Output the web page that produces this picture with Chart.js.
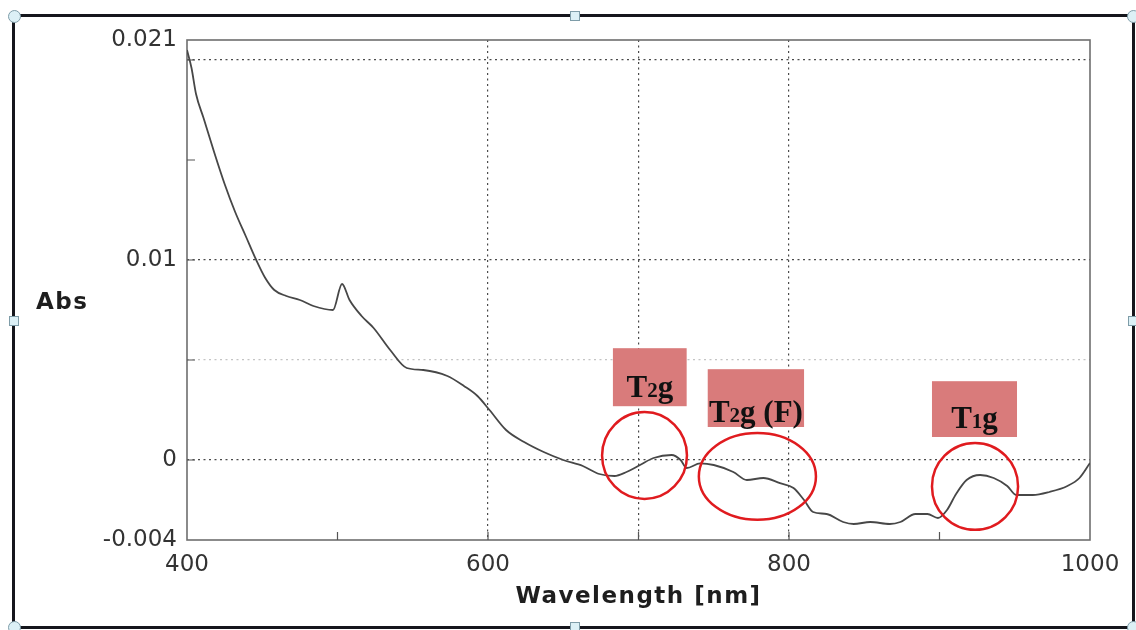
<!DOCTYPE html>
<html>
<head>
<meta charset="utf-8">
<script src="https://cdn.jsdelivr.net/npm/chart.js@4.4.1/dist/chart.umd.min.js"></script>
<style>
 body { margin: 0; background: #fff; }
 #wrap { position: relative; width: 1136px; height: 630px; overflow: hidden; }
 #frame { position: absolute; left: 12px; top: 14px; width: 1123px; height: 615px; box-sizing: border-box; border: 3px solid #15161c; }
 .h { position: absolute; background: #dcf0f6; border: 1.5px solid #7e9ca8; box-sizing: border-box; z-index: 3; }
 .c { width: 13px; height: 13px; border-radius: 50%; }
 .s { width: 10px; height: 10px; }
 canvas { position: absolute; left: 0; top: 0; z-index: 2; }
</style>
</head>
<body>
<div id="wrap">
 <div id="frame"></div>
 <canvas id="absChart" width="1136" height="630"></canvas>
 <div class="h c" style="left:8px;top:10px"></div>
 <div class="h c" style="left:1127px;top:10px"></div>
 <div class="h c" style="left:8px;top:621px"></div>
 <div class="h c" style="left:1127px;top:621px"></div>
 <div class="h s" style="left:570px;top:11px"></div>
 <div class="h s" style="left:570px;top:622px"></div>
 <div class="h s" style="left:9px;top:316px"></div>
 <div class="h s" style="left:1128px;top:316px"></div>
</div>
<script>
// spectre
const wavelength = [400, 403, 406, 411, 418, 425, 432, 439, 446, 452, 458, 466, 475, 484, 497, 503, 508, 516, 524, 535,
 546, 557, 573, 584, 593, 601, 612, 624, 637, 650, 663, 674, 684, 692, 701, 710, 722, 728, 732, 741,
 750, 763, 772, 783, 794, 803, 810, 816, 825, 836, 843, 854, 867, 874, 884, 892, 899, 905, 911, 918,
 927, 936, 945, 951, 962, 973, 985, 993, 1000];
const absorbance = [0.0205, 0.0196, 0.0183, 0.0171, 0.0154, 0.0138, 0.0124, 0.0112, 0.0100, 0.0091, 0.0085, 0.0082, 0.0080, 0.0077, 0.0075, 0.0088, 0.0080, 0.0072, 0.0066, 0.0055,
 0.0046, 0.0045, 0.0042, 0.0037, 0.0032, 0.0025, 0.0015, 0.0009, 0.0004, 0.0000, -0.0003, -0.0007, -0.0008, -0.0006, -0.00025, 0.0001, 0.00025, 0.0, -0.0004, -0.00017,
 -0.00025, -0.0006, -0.001, -0.0009, -0.00116, -0.0014, -0.002, -0.0026, -0.0027, -0.0031, -0.0032, -0.0031, -0.0032, -0.0031, -0.0027, -0.0027, -0.0029, -0.0025, -0.0017, -0.001,
 -0.00075, -0.0009, -0.0013, -0.00175, -0.00175, -0.0016, -0.0013, -0.0009, -0.00015];

const xTicks = [400, 500, 600, 700, 800, 900, 1000];
const xLabels = [400, 600, 800, 1000];
const yTicks = [-0.004, 0, 0.005, 0.01, 0.015, 0.02, 0.021];
const yLabels = [-0.004, 0, 0.01, 0.021];
const xGrid = [600, 700, 800];
const yGrid = [0, 0.01, 0.02];
const yFaintGrid = [0.005];
const bandNames = ["T2g", "T2g (F)", "T1g"];

// caixas e elipses das bandas (em unidades dos eixos)
const notes = [
 { box: [683, 732, 0.00269, 0.00559], base: 0.00314, ell: [704, 0.000225, 28.2, 0.00217] },
 { box: [746, 810, 0.00165, 0.00454], base: 0.0019, ell: [779, -0.00082, 38.9, 0.00217] },
 { box: [895, 951.5, 0.00115, 0.00394], base: 0.0016, ell: [923.6, -0.00132, 28.6, 0.00217] }
];

const decor = {
 id: "decor",
 beforeDatasetsDraw(chart) {
 const { ctx, chartArea: a, scales: { x, y } } = chart;
 ctx.save();
 ctx.strokeStyle = "#6e6e6e";
 ctx.lineWidth = 1.6;
 ctx.strokeRect(a.left, a.top, a.right - a.left, a.bottom - a.top);

 // marcas internas
 ctx.strokeStyle = "#555";
 ctx.lineWidth = 1.2;
 ctx.beginPath();
 yTicks.forEach(v => {
 if (v > y.min && v < y.max) {
 const p = y.getPixelForValue(v);
 ctx.moveTo(a.left, p);
 ctx.lineTo(a.left + 8, p);
 }
 });
 xTicks.forEach(v => {
 if (v > x.min && v < x.max) {
 const p = x.getPixelForValue(v);
 ctx.moveTo(p, a.bottom);
 ctx.lineTo(p, a.bottom - 8);
 }
 });
 ctx.stroke();

 // titulos
 ctx.fillStyle = "#1e1e1e";
 ctx.font = 'bold 23px "DejaVu Sans"';
 ctx.letterSpacing = "1.5px";
 ctx.textBaseline = "middle";
 ctx.textAlign = "left";
 ctx.fillText("Abs", 36, a.top + 263);
 ctx.textAlign = "center";
 ctx.fillText("Wavelength [nm]", (a.left + a.right) / 2, a.bottom + 57);
 ctx.restore();
 },
 afterDatasetsDraw(chart) {
 const { ctx, scales: { x, y } } = chart;
 ctx.save();
 notes.forEach((n, i) => {
 const l = x.getPixelForValue(n.box[0]);
 const r = x.getPixelForValue(n.box[1]);
 const b = y.getPixelForValue(n.box[2]);
 const t = y.getPixelForValue(n.box[3]);
 ctx.fillStyle = "#d97b7b";
 ctx.fillRect(l, t, r - l, b - t);

 // texto: letra, digito pequeno, resto
 const name = bandNames[i];
 const parts = [[name[0], 31], [name[1], 21], [name.slice(2), 31]];
 let total = 0;
 parts.forEach(p => {
 ctx.font = "bold " + p[1] + 'px "Liberation Serif"';
 p.push(ctx.measureText(p[0]).width);
 total += p[2];
 });
 let tx = (l + r) / 2 - total / 2;
 const ty = y.getPixelForValue(n.base);
 ctx.fillStyle = "#111";
 ctx.textBaseline = "alphabetic";
 ctx.textAlign = "left";
 parts.forEach(p => {
 ctx.font = "bold " + p[1] + 'px "Liberation Serif"';
 ctx.fillText(p[0], tx, ty);
 tx += p[2];
 });

 const cx = x.getPixelForValue(n.ell[0]);
 const cy = y.getPixelForValue(n.ell[1]);
 const rx = x.getPixelForValue(n.ell[0] + n.ell[2]) - cx;
 const ry = cy - y.getPixelForValue(n.ell[1] + n.ell[3]);
 ctx.beginPath();
 ctx.ellipse(cx, cy, rx, ry, 0, 0, Math.PI * 2);
 ctx.strokeStyle = "#e01b1f";
 ctx.lineWidth = 2.5;
 ctx.stroke();
 });
 ctx.restore();
 }
};

const tickFont = { family: "DejaVu Sans", size: 23 };

new Chart(document.getElementById("absChart"), {
 type: "line",
 data: {
 datasets: [{
 data: wavelength.map((w, i) => ({ x: w, y: absorbance[i] })),
 borderColor: "#474747",
 borderWidth: 1.8,
 pointRadius: 0,
 cubicInterpolationMode: "monotone",
 fill: false
 }]
 },
 options: {
 responsive: false,
 animation: false,
 events: [],
 layout: { padding: { top: 40, right: 46, bottom: 0, left: 0 } },
 plugins: { legend: { display: false }, tooltip: { enabled: false } },
 scales: {
 x: {
 type: "linear",
 min: 400,
 max: 1000,
 afterBuildTicks: s => { s.ticks = xTicks.map(v => ({ value: v })); },
 afterFit: s => { s.height = 90; },
 ticks: {
 callback: v => (xLabels.includes(v) ? String(v) : ""),
 font: tickFont,
 color: "#333",
 padding: 11,
 autoSkip: false,
 maxRotation: 0
 },
 grid: {
 drawTicks: false,
 lineWidth: 1.2,
 color: c => (c.tick && xGrid.includes(c.tick.value) ? "#4a4a4a" : "rgba(0,0,0,0)")
 },
 border: { display: false, dash: [2, 3.5] }
 },
 y: {
 type: "linear",
 min: -0.004,
 max: 0.021,
 afterBuildTicks: s => { s.ticks = yTicks.map(v => ({ value: v })); },
 afterFit: s => { s.width = 187; },
 ticks: {
 callback: v => (yLabels.includes(v) ? String(v) : ""),
 font: tickFont,
 color: "#333",
 padding: 10,
 autoSkip: false
 },
 grid: {
 drawTicks: false,
 lineWidth: 1.2,
 color: c => {
 if (!c.tick) return "rgba(0,0,0,0)";
 if (yGrid.includes(c.tick.value)) return "#4a4a4a";
 if (yFaintGrid.includes(c.tick.value)) return "#c4c4c4";
 return "rgba(0,0,0,0)";
 }
 },
 border: { display: false, dash: [2, 3.5] }
 }
 }
 },
 plugins: [decor]
});
</script>
</body>
</html>
